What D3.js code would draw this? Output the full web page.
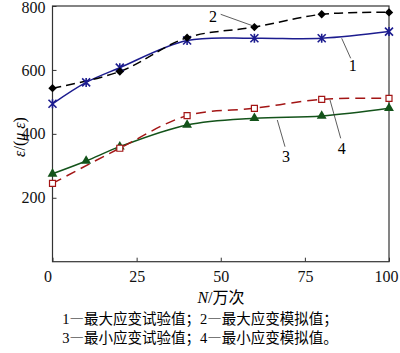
<html lang="zh">
<head>
    <meta charset="UTF-8">
    <title>应变</title>
    <script src="https://cdn.jsdelivr.net/npm/d3@7"></script>
    <style>
        body{ margin:0; background:#fff; }
        svg text{ font-family:"Liberation Serif", "Times New Roman", "DejaVu Serif", serif; }
        .tick text, .lbl{ font-size:16px; }
        .note{ font-size:14.5px; }
        .cjk{ font-family:"Noto Sans CJK SC", sans-serif; }
        .frame{ fill:none; stroke:#333; stroke-width:1.2px; }
        .lead{ stroke:#333; stroke-width:0.8px; }
    </style>
</head>
<body>
<svg id="svg"></svg>
<script>
    var WIDTH = 400, HEIGHT = 353;
    var LEFT = 52.5, RIGHT = 389, TOP = 6, BOTTOM = 261.7;

    // data
    var xTicks = [0, 25, 50, 75, 100];
    var yTicks = [200, 400, 600, 800];

    var n1 = [0, 10, 20, 40, 60, 80, 100];
    var maxTest = [494, 561, 607, 692, 699, 699, 720];   // 1
    var n2 = [0, 20, 40, 60, 80, 100];
    var maxSim = [543, 595, 701, 734, 774, 780];         // 2
    var n3 = [0, 10, 20, 40, 60, 80, 100];
    var minTest = [275, 315, 360, 428, 449, 456, 480];   // 3
    var n4 = [0, 20, 40, 60, 80, 100];
    var minSim = [245, 355, 457, 480, 508, 511];         // 4

    var notes = [["1", "—最大应变试验值；", "2", "—最大应变模拟值；"],
                 ["3", "—最小应变试验值；", "4", "—最小应变模拟值。"]];

    var svg = d3.select("#svg").attr("width", WIDTH).attr("height", HEIGHT);

    var x = d3.scaleLinear().domain([0, 100]).range([LEFT, RIGHT]);
    var y = d3.scaleLinear().domain([0, 800]).range([BOTTOM, TOP]);

    var xAxis = d3.axisBottom(x).tickValues(xTicks).tickSizeInner(-4).tickSizeOuter(0).tickPadding(9);
    var yAxis = d3.axisLeft(y).tickValues(yTicks).tickSizeInner(-4).tickSizeOuter(0).tickPadding(7);

    var gx = svg.append("g").attr("transform", "translate(0," + BOTTOM + ")").call(xAxis);
    var gy = svg.append("g").attr("transform", "translate(" + LEFT + ",0)").call(yAxis);
    [gx, gy].forEach(function(g){
        g.attr("font-family", null).attr("font-size", null);
        g.select(".domain").remove();
        g.selectAll(".tick line").attr("stroke", "#333");
        g.selectAll(".tick text").attr("fill", "#111");
    });
    gx.selectAll(".tick text").filter(function(d){ return d === 0; }).attr("dx", -5);
    gx.selectAll(".tick text").filter(function(d){ return d === 100; }).attr("dx", -3);
    gy.selectAll(".tick text").filter(function(d){ return d === 800; }).attr("dy", "0.38em");

    svg.append("rect").attr("class", "frame")
       .attr("x", LEFT).attr("y", TOP)
       .attr("width", RIGHT - LEFT).attr("height", BOTTOM - TOP);

    function pts(xs, ys){ return xs.map(function(v, i){ return [v, ys[i]]; }); }

    var line = d3.line()
                 .x(function(d){ return x(d[0]); })
                 .y(function(d){ return y(d[1]); })
                 .curve(d3.curveCatmullRom);

    var series = [
        {data: pts(n1, maxTest), color: "#1c1c8f", dash: null, mark: "star"},
        {data: pts(n2, maxSim), color: "#000", dash: "9,5", mark: "diamond"},
        {data: pts(n3, minTest), color: "#13531a", dash: null, mark: "tri"},
        {data: pts(n4, minSim), color: "#a31515", dash: "10,6", mark: "square"}
    ];

    series.forEach(function(s){
        svg.append("path")
           .datum(s.data)
           .attr("d", line)
           .attr("fill", "none")
           .attr("stroke", s.color)
           .attr("stroke-width", 1.5)
           .attr("stroke-dasharray", s.dash);
    });

    var star = "M-4,-4L4,4M-4,4L4,-4M0,-4.5L0,4.5";
    series.forEach(function(s){
        var g = svg.append("g");
        var m = g.selectAll("path").data(s.data).enter().append("path")
                 .attr("transform", function(d){ return "translate(" + x(d[0]) + "," + y(d[1]) + ")"; });
        if (s.mark === "star") {
            m.attr("d", star).attr("fill", "none").attr("stroke", s.color).attr("stroke-width", 1.6);
        } else if (s.mark === "diamond") {
            m.attr("d", "M0,-4.2L4.2,0L0,4.2L-4.2,0Z").attr("fill", s.color);
        } else if (s.mark === "tri") {
            m.attr("d", d3.symbol(d3.symbolTriangle, 42)).attr("fill", s.color);
        } else {
            m.attr("d", "M-3,-3H3V3H-3Z").attr("fill", "#fff").attr("stroke", s.color).attr("stroke-width", 1.2);
        }
    });

    // curve labels with leader lines
    var labels = [
        {t: "2", tx: 213, ty: 22, l: [220.7, 14.3, 253.3, 26]},
        {t: "1", tx: 352.7, ty: 71, l: [341.7, 38.3, 350.7, 58.3]},
        {t: "4", tx: 341.7, ty: 154, l: [330, 100, 340.7, 138.3]},
        {t: "3", tx: 286, ty: 162, l: [277.3, 120, 285, 146.7]}
    ];
    labels.forEach(function(d){
        svg.append("line").attr("class", "lead")
           .attr("x1", d.l[0]).attr("y1", d.l[1]).attr("x2", d.l[2]).attr("y2", d.l[3]);
        svg.append("text").attr("class", "lbl")
           .attr("x", d.tx).attr("y", d.ty)
           .attr("text-anchor", "middle")
           .text(d.t);
    });

    // axis titles
    var xt = svg.append("text").attr("class", "lbl")
                .attr("x", 221).attr("y", 303).attr("text-anchor", "middle");
    xt.append("tspan").attr("font-style", "italic").text("N");
    xt.append("tspan").text("/");
    xt.append("tspan").attr("class", "cjk").text("万次");

    var yt = svg.append("text").attr("class", "lbl")
                .attr("transform", "translate(25,137) rotate(-90)")
                .attr("text-anchor", "middle");
    yt.append("tspan").attr("font-style", "italic").text("ε");
    yt.append("tspan").text("/(");
    yt.append("tspan").attr("font-style", "italic").text("μ ε");
    yt.append("tspan").text(")");

    svg.selectAll(".note").data(notes).enter().append("text")
       .attr("class", "note")
       .attr("x", 200)
       .attr("y", function(d, i){ return 324 + i * 19; })
       .attr("text-anchor", "middle")
       .each(function(parts){
           var t = d3.select(this);
           parts.forEach(function(p, j){
               t.append("tspan").attr("class", j % 2 ? "cjk" : null).text(p);
           });
       });
</script>
</body>
</html>
